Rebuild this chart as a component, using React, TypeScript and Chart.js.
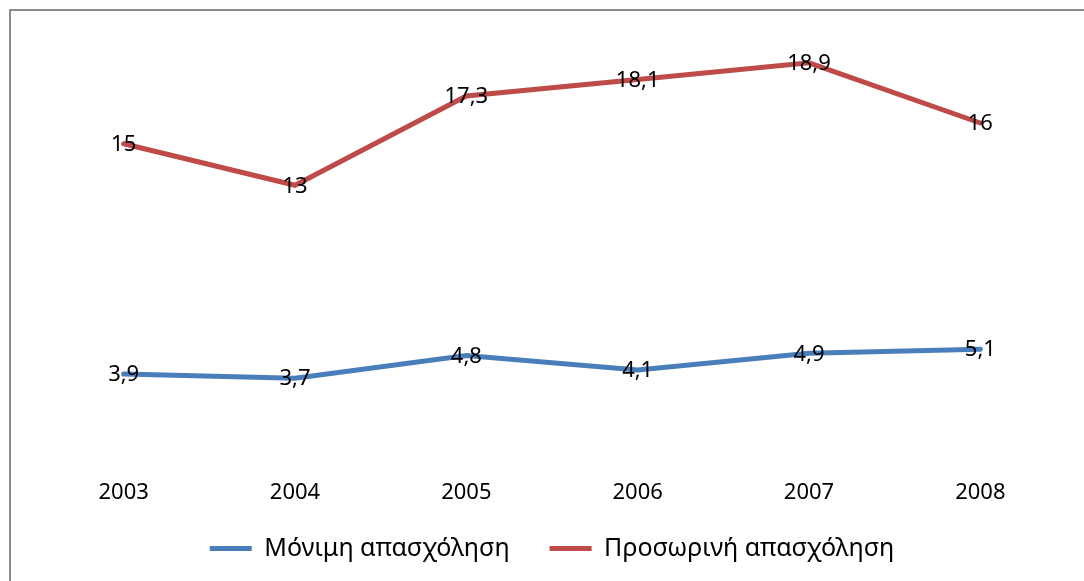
import React, { useEffect, useRef } from "react";
import { Chart, registerables } from "chart.js";

Chart.register(...registerables);

const years = ["2003", "2004", "2005", "2006", "2007", "2008"];
const permanent = [3.9, 3.7, 4.8, 4.1, 4.9, 5.1];
const temporary = [15, 13, 17.3, 18.1, 18.9, 16];
const seriesNames = ["Μόνιμη απασχόληση", "Προσωρινή απασχόληση"];

const FONT = "'Noto Sans', sans-serif";
const FONT_SIZE = 22;
const LEGEND_FONT_SIZE = 25;

const dataLabels = {
  id: "dataLabels",
  afterDatasetsDraw(chart: any) {
    const ctx = chart.ctx;
    ctx.save();
    ctx.font = `${FONT_SIZE}px ${FONT}`;
    ctx.fillStyle = "#000";
    ctx.textAlign = "center";
    ctx.textBaseline = "middle";
    chart.data.datasets.forEach((ds: any, i: number) => {
      const meta = chart.getDatasetMeta(i);
      meta.data.forEach((pt: any, j: number) => {
        const v = ds.data[j];
        ctx.fillText(String(v).replace(".", ","), pt.x, pt.y + 1);
      });
    });
    ctx.restore();
  },
};

// pull the legend up closer to the category labels
const legendShift = {
  id: "legendShift",
  afterLayout(chart: any) {
    const lg = chart.legend;
    if (lg) {
      lg.top -= 14;
      lg.bottom -= 14;
    }
  },
};

export default function App() {
  const ref = useRef<HTMLCanvasElement>(null);
  useEffect(() => {
    document.body.style.margin = "0";
    const chart = new Chart(ref.current!, {
      type: "line",
      data: {
        labels: years,
        datasets: [
          {
            label: seriesNames[0],
            data: permanent,
            borderColor: "#4A7EBB",
            backgroundColor: "#4A7EBB",
            borderWidth: 5,
            pointRadius: 0,
            borderCapStyle: "round",
            tension: 0,
          },
          {
            label: seriesNames[1],
            data: temporary,
            borderColor: "#BE4B48",
            backgroundColor: "#BE4B48",
            borderWidth: 5,
            pointRadius: 0,
            borderCapStyle: "round",
            tension: 0,
          },
        ],
      },
      options: {
        animation: false,
        responsive: true,
        maintainAspectRatio: false,
        layout: { padding: { left: 38, right: 18, top: 40, bottom: -4 } },
        plugins: {
          tooltip: { enabled: false },
          legend: {
            position: "bottom",
            labels: {
              usePointStyle: true,
              pointStyle: "line",
              pointStyleWidth: 42,
              boxHeight: 5,
              padding: 40,
              color: "#000",
              font: { family: FONT, size: LEGEND_FONT_SIZE },
            },
          },
        },
        scales: {
          x: {
            offset: true,
            grid: { display: false },
            border: { display: false },
            ticks: { color: "#000", padding: 17, font: { family: FONT, size: FONT_SIZE } },
            afterFit: (scale: any) => {
              scale.height = 55;
            },
          },
          y: { display: false, min: 0, max: 20 },
        },
      },
      plugins: [dataLabels, legendShift],
    });
    return () => chart.destroy();
  }, []);
  return (
    <div style={{ position: "relative", width: 1084, height: 581, background: "#fff", overflow: "hidden" }}>
      <div
        style={{
          position: "absolute",
          left: 9,
          top: 9,
          width: 1200,
          height: 700,
          borderTop: "2px solid #8c8c8c",
          borderLeft: "2px solid #8c8c8c",
          pointerEvents: "none",
        }}
      />
      <canvas ref={ref} />
    </div>
  );
}
